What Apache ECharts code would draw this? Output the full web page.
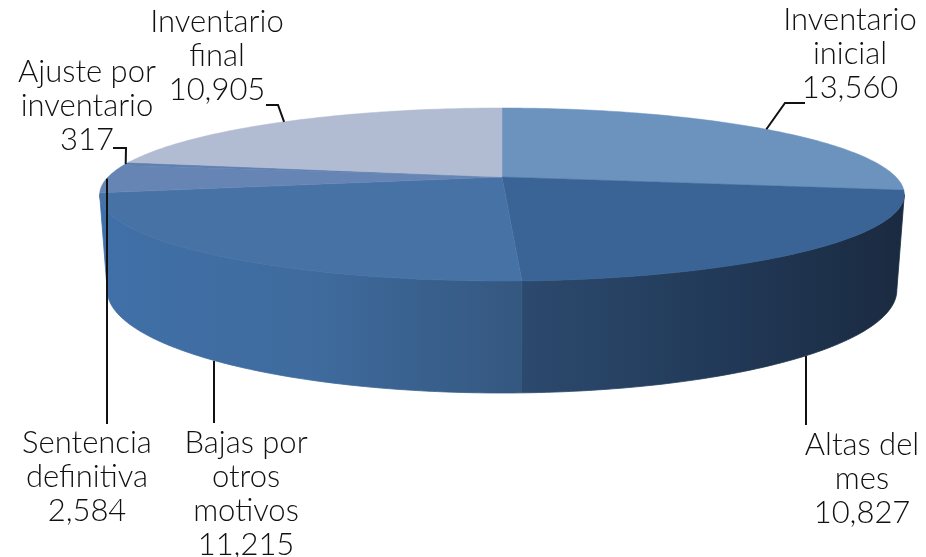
<!DOCTYPE html>
<html>
<head>
<meta charset="utf-8">
<style>
    html, body { margin: 0; padding: 0; background: #fff; }
    #chart { width: 926px; height: 557px; }
</style>
<script src="https://cdn.jsdelivr.net/npm/echarts@6/dist/echarts.min.js"></script>
</head>
<body>
<div id="chart"></div>
<script>
    // data, clockwise from 12 o'clock
    const categories = ['Inventario\ninicial', 'Altas del\nmes', 'Bajas por\notros\nmotivos', 'Sentencia\ndefinitiva', 'Ajuste por\ninventario', 'Inventario\nfinal'];
    const values = [13560, 10827, 11215, 2584, 317, 10905];

    // look of each slice
    const topColors = ['#6b93be', '#3a6496', '#4672a6', '#6685b4', '#5f80b0', '#b1bbd1'];
    const wallColors = [null, ['#2c4a6e', '#223a59', '#1a2a40'], ['#4070a8', '#3f6b9e', '#34577f'], null, null, null];

    // label block (centre x, top y) and leader elbow, per slice
    const labelPos = [[850, 3], [862, 428], [246, 426], [87, 426], [87, 55], [217, 5]];
    const leaderPts = [
        [[785, 103], [805, 103]],
        [[806, 425]],
        [[214, 423]],
        [[107, 424]],
        [[126, 148], [113, 148]],
        [[278, 105], [266, 105]]
    ];

    const total = values.reduce(function (a, b) { return a + b; }, 0);
    const cx = 502, apexY = 177, K = 394, pa = 47.15, pc = -0.2023;
    const frontFrom = 101.7, frontTo = 258.3;

    // disc angle (deg from 12 o'clock) to screen, with a bit of perspective
    function rimTop(deg) {
        let t = deg * Math.PI / 180, u = Math.sin(t), v = -Math.cos(t), d = 1 + pc * v;
        return [cx + K * u / d, (pa * v + apexY) / d];
    }
    function rimBottom(deg) {
        let p = rimTop(deg);
        return [cx + (p[0] - cx) * 395 / 402.5, 290 + (p[1] - 194.5) * 103 / 86.5];
    }
    function arc(fn, from, to) {
        let pts = [];
        for (let a = from; a < to; a += 1) {
            pts.push(fn(a));
        }
        pts.push(fn(to));
        return pts;
    }

    function renderSlice(params, api) {
        let i = params.dataIndex;
        let start = 0;
        for (let k = 0; k < i; k++) {
            start += values[k] / total * 360;
        }
        let end = start + api.value(0) / total * 360;
        let mid = (start + end) / 2;
        let children = [];

        // front wall
        let wFrom = Math.max(start, frontFrom), wTo = Math.min(end, frontTo);
        if (wallColors[i] && wTo > wFrom) {
            let stops = wallColors[i].map(function (c, n) {
                return {offset: n / (wallColors[i].length - 1), color: c};
            });
            let wallFill = new echarts.graphic.LinearGradient(0, 0, 1, 0, stops);
            children.push({
                type: 'polygon',
                z2: 1,
                shape: {points: arc(rimTop, wFrom, wTo).concat(arc(rimBottom, wFrom, wTo).reverse())},
                style: {fill: wallFill, stroke: wallFill, lineWidth: 0.8}
            });
        }

        // top face
        children.push({
            type: 'polygon',
            z2: 2,
            shape: {points: [[cx, apexY]].concat(arc(rimTop, start, end))},
            style: {fill: topColors[i], stroke: topColors[i], lineWidth: 0.5}
        });

        // leader, starts on the lower rim for front slices
        let anchor = (mid > frontFrom && mid < frontTo) ? rimBottom(mid) : rimTop(mid);
        let line = [anchor].concat(leaderPts[i]);
        if (leaderPts[i].length === 1) {
            line[0] = [leaderPts[i][0][0], anchor[1]];
        }
        children.push({
            type: 'polyline',
            z2: 3,
            shape: {points: line},
            style: {fill: null, stroke: '#111', lineWidth: 2}
        });

        // label
        children.push({
            type: 'text',
            z2: 4,
            x: labelPos[i][0],
            y: labelPos[i][1],
            style: {
                text: categories[i] + '\n' + api.value(0).toLocaleString('en-US'),
                fontFamily: 'Lato',
                fontWeight: 300,
                fontSize: 31,
                lineHeight: 34,
                fill: '#111',
                align: 'center',
                verticalAlign: 'top'
            }
        });
        return {type: 'group', children: children};
    }

    let myChart = echarts.init(document.getElementById('chart'), null, {renderer: 'canvas'});
    myChart.setOption({
        backgroundColor: '#fff',
        animation: false,
        series: [{
            type: 'custom',
            coordinateSystem: 'none',
            renderItem: renderSlice,
            data: values.map(function (v) { return [v]; })
        }]
    });
</script>
</body>
</html>
